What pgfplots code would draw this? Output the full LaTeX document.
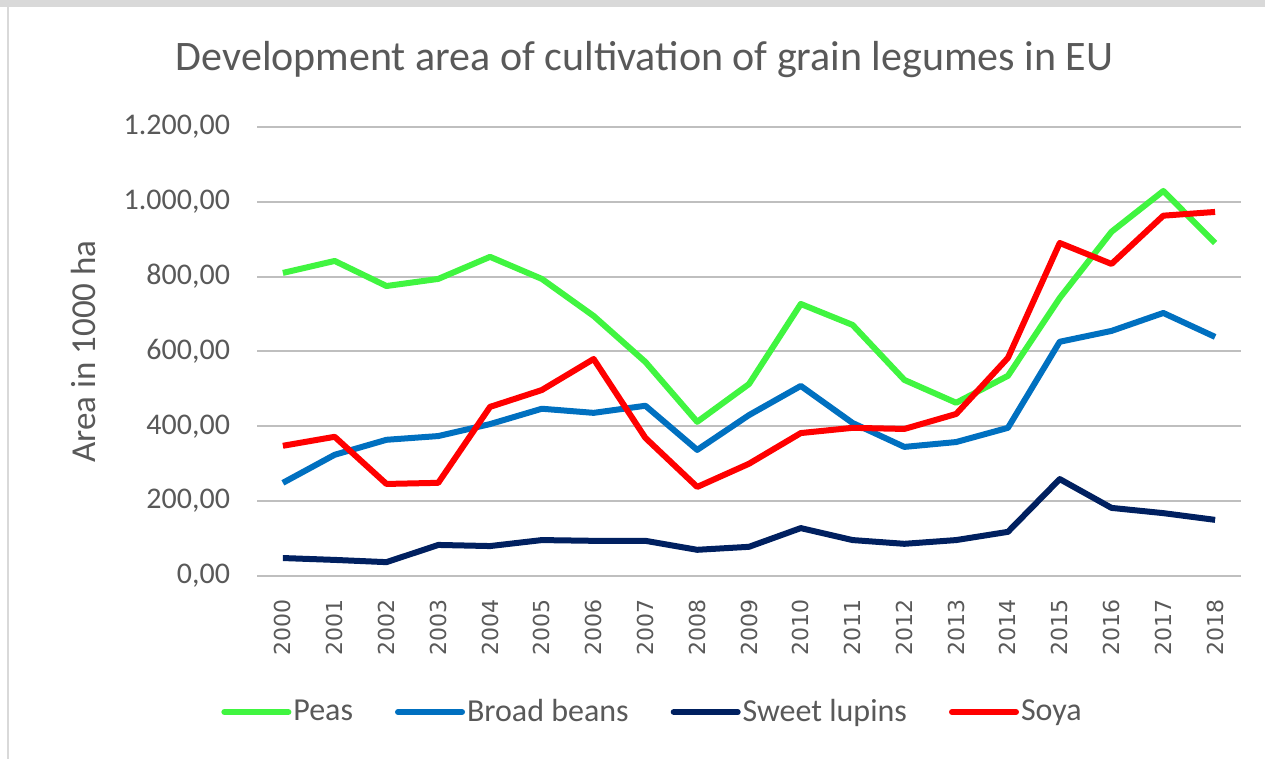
\documentclass[border=0pt]{standalone}
\usepackage{pgfplots}
\pgfplotsset{compat=1.18}
\usepackage{fontspec}
\setmainfont{Carlito}
\newfontfamily\xfont{DejaVu Sans}
\definecolor{peas}{RGB}{64,245,64}
\definecolor{beans}{RGB}{0,112,192}
\definecolor{lupins}{RGB}{0,32,96}
\definecolor{soya}{RGB}{255,0,0}
\definecolor{txt}{RGB}{89,89,89}
\definecolor{grid}{RGB}{217,217,217}
\pgfplotstableread{
year peas beans lupins soya
2000 810 249 48 348
2001 842 324 43 372
2002 775 364 37 246
2003 794 374 83 249
2004 853 406 80 452
2005 794 447 96 497
2006 695 436 94 580
2007 572 455 94 369
2008 412 337 70 238
2009 513 430 78 300
2010 727 508 128 382
2011 671 409 96 396
2012 524 345 86 393
2013 463 358 96 433
2014 535 396 118 583
2015 743 626 259 890
2016 920 655 182 834
2017 1029 703 168 963
2018 890 639 150 973
}\data
\begin{document}
\begin{tikzpicture}[x=0.5pt,y=0.5pt]
\path[fill=white] (0,0) rectangle (1265,759);
\fill[grid] (0,752) rectangle (1265,759);
\draw[grid,line width=1pt] (8,0) -- (8,752);
\begin{axis}[
  at={(128.5pt,91.5pt)}, anchor=south west,
  scale only axis, width=492pt, height=224.5pt,
  xmin=1999.5, xmax=2018.5, ymin=0, ymax=1200,
  axis line style={draw=none},
  ytick={0,200,...,1200},
  xmajorgrids=false, ymajorgrids=true, grid style={grid,line width=1pt},
  major tick length=0pt, tick style={draw=none},
  xtick={2000,2001,...,2018},
  x tick label style={rotate=90, anchor=east, font=\xfont\fontsize{11}{13}\selectfont, /pgf/number format/1000 sep={}, xshift=-8pt},
  y tick label style={font=\fontsize{15}{17}\selectfont, xshift=-10pt},
  yticklabel style={/pgf/number format/.cd, fixed, fixed zerofill, precision=2, use comma, 1000 sep={.}, assume math mode=true},
  xticklabel style={/pgf/number format/assume math mode=true},
  tick label style={text=txt},
  ylabel={Area in 1000 ha},
  ylabel style={at={(axis description cs:-0.176,0.5)}, anchor=center, font=\fontsize{17.5}{20}\selectfont, text=txt},
  title={Development area of cultivation of grain legumes in EU},
  title style={at={(axis description cs:0.394,1.123)}, anchor=center, font=\fontsize{21}{25}\selectfont, text=txt},
  legend columns=4,
  legend cell align=left,
  legend style={at={(axis description cs:0.402,-0.303)}, anchor=center, draw=none, font=\fontsize{16}{19}\selectfont, text=txt,
    nodes={inner xsep=1pt},
    /tikz/every even column/.append style={column sep=20pt}},
  legend image code/.code={\draw[#1,line cap=round] (0pt,0pt) -- (32pt,0pt);},
  every axis plot/.append style={line width=3pt, line join=round}
]
\addplot[peas] table[x=year,y=peas] {\data};
\addlegendentry{Peas}
\addplot[beans] table[x=year,y=beans] {\data};
\addlegendentry{Broad beans}
\addplot[lupins] table[x=year,y=lupins] {\data};
\addlegendentry{Sweet lupins}
\addplot[soya] table[x=year,y=soya] {\data};
\addlegendentry{Soya}
\end{axis}
\end{tikzpicture}
\end{document}
